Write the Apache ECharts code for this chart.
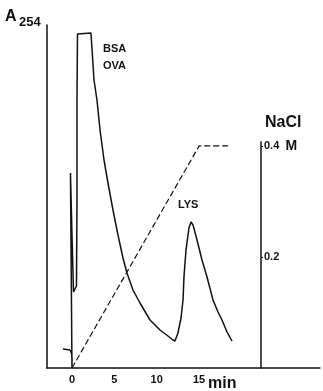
<!DOCTYPE html>
<html>
<head>
<meta charset="utf-8">
<script src="https://cdn.jsdelivr.net/npm/echarts@6/dist/echarts.min.js"></script>
<style>
  html, body { margin: 0; padding: 0; background: #fff; }
  #chart { width: 323px; height: 391px; }
</style>
</head>
<body>
<div id="chart"></div>
<script>
// Elution time (min) and absorbance at 254 nm (recorder units)
const traceTime = [-1.06, -0.24, -0.06, 0.0, 0.0, -0.18, 0.0, 0.18, 0.53, 0.59, 0.59, 0.65,
  2.24, 2.60, 2.95, 3.31, 3.78, 4.25, 4.84, 5.43, 6.02, 6.49, 7.20, 8.03, 9.21, 10.39,
  11.33, 11.92, 12.16, 12.51, 12.87, 13.11, 13.22, 13.46, 13.81, 14.05, 14.29, 14.76,
  15.35, 15.94, 16.65, 17.24, 17.71, 18.30, 18.89];
const traceA254 = [0.19, 0.18, 0.15, 0.10, 0.0, 1.95, 1.33, 0.76, 0.82, 1.68, 2.68, 3.34,
  3.35, 2.88, 2.68, 2.38, 2.08, 1.85, 1.58, 1.33, 1.10, 0.95, 0.78, 0.65, 0.48, 0.38,
  0.32, 0.28, 0.27, 0.35, 0.50, 0.68, 0.91, 1.18, 1.40, 1.46, 1.43, 1.28,
  1.08, 0.91, 0.68, 0.56, 0.48, 0.36, 0.27];

// Salt gradient (NaCl, M)
const gradTime = [0, 15, 18.4];
const gradNaCl = [0, 0.4, 0.4];

// Axis labels
const timeTicks = [0, 5, 10, 15];
const naclTicks = [0.2, 0.4];

const ink = '#111';
const fontFam = '"Liberation Sans", Arial, sans-serif';

const chart = echarts.init(document.getElementById('chart'), null, { renderer: 'canvas' });

chart.setOption({
  animation: false,
  backgroundColor: '#fff',
  grid: [
    { left: 47, right: 3, top: 25, bottom: 23, containLabel: false, outerBoundsMode: 'none' },
    { left: 47, right: 62, top: 142, bottom: 23, containLabel: false, outerBoundsMode: 'none' }
  ],
  xAxis: [
    {
      type: 'value', gridIndex: 0, min: -2.95, max: 29.28,
      axisLine: { show: true, onZero: false, lineStyle: { color: ink, width: 1.5 } },
      axisTick: { show: false },
      splitLine: { show: false },
      axisLabel: {
        customValues: timeTicks, margin: 6,
        color: ink, fontFamily: fontFam, fontWeight: 'bold', fontSize: 11
      }
    },
    {
      type: 'value', gridIndex: 1, min: -2.95, max: 22.3, show: false
    }
  ],
  yAxis: [
    {
      type: 'value', gridIndex: 0, min: 0, max: 3.43,
      axisLine: { show: true, onZero: false, lineStyle: { color: ink, width: 1.5 } },
      axisTick: { show: false },
      axisLabel: { show: false },
      splitLine: { show: false }
    },
    {
      type: 'value', gridIndex: 1, position: 'right', min: 0, max: 0.407,
      axisLine: { show: true, onZero: false, lineStyle: { color: ink, width: 1.5 } },
      axisTick: { show: true, customValues: naclTicks, length: 2, lineStyle: { color: ink } },
      splitLine: { show: false },
      axisLabel: {
        customValues: naclTicks, margin: 3,
        color: ink, fontFamily: fontFam, fontWeight: 'bold', fontSize: 11,
        formatter: v => (Math.abs(v - 0.4) < 1e-6 ? '0.4  {m|M}' : String(v)),
        rich: {
          m: { fontFamily: fontFam, fontWeight: 'bold', fontSize: 14, color: ink }
        }
      }
    }
  ],
  series: [
    {
      name: 'A254',
      type: 'line',
      xAxisIndex: 0, yAxisIndex: 0,
      data: traceTime.map((t, i) => [t, traceA254[i]]),
      showSymbol: false,
      clip: false,
      lineStyle: { color: ink, width: 1.5 }
    },
    {
      name: 'NaCl',
      type: 'line',
      xAxisIndex: 1, yAxisIndex: 1,
      data: gradTime.map((t, i) => [t, gradNaCl[i]]),
      showSymbol: false,
      clip: false,
      lineStyle: { color: ink, width: 1.2, type: [6, 3] }
    }
  ],
  graphic: [
    { type: 'text', x: 5, y: 17, style: { text: 'A', font: 'bold 16px ' + fontFam, fill: ink, verticalAlign: 'middle' } },
    { type: 'text', x: 19, y: 22, style: { text: '254', font: 'bold 13px ' + fontFam, fill: ink, verticalAlign: 'middle' } },
    { type: 'text', x: 103, y: 49, style: { text: 'BSA', font: 'bold 11px ' + fontFam, fill: ink, verticalAlign: 'middle' } },
    { type: 'text', x: 103, y: 66, style: { text: 'OVA', font: 'bold 11px ' + fontFam, fill: ink, verticalAlign: 'middle' } },
    { type: 'text', x: 178, y: 205, style: { text: 'LYS', font: 'bold 11px ' + fontFam, fill: ink, verticalAlign: 'middle' } },
    { type: 'text', x: 265, y: 123, style: { text: 'NaCl', font: 'bold 16px ' + fontFam, fill: ink, verticalAlign: 'middle' } },
    { type: 'text', x: 208, y: 384, style: { text: 'min', font: 'bold 16px ' + fontFam, fill: ink, verticalAlign: 'middle' } }
  ]
});
</script>
</body>
</html>
